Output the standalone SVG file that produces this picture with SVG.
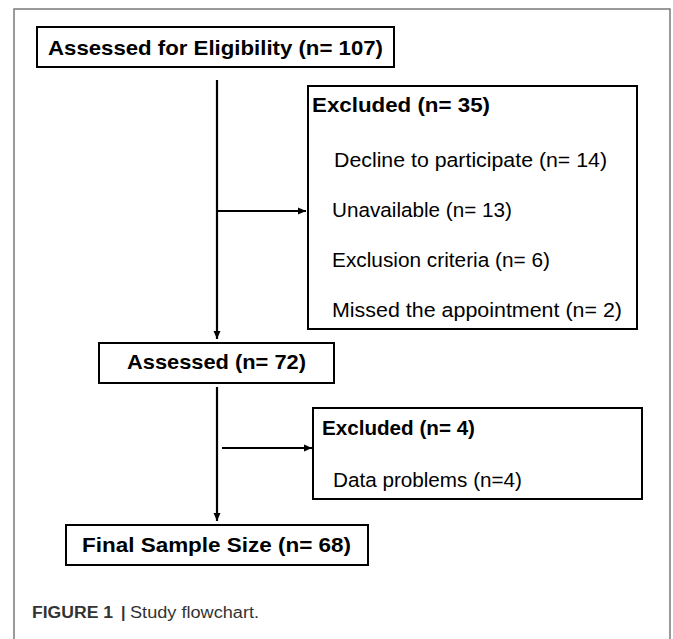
<svg xmlns="http://www.w3.org/2000/svg" width="673" height="639" viewBox="0 0 673 639">
  <style>
    .box { fill: #ffffff; stroke: #000000; stroke-width: 2; }
    .frame { fill: none; stroke: #7a7a7a; stroke-width: 1.5; }
    .title { font-family: "Liberation Sans", Arial, sans-serif; font-weight: bold; font-size: 21px; fill: #000; }
    .item { font-family: "Liberation Sans", Arial, sans-serif; font-size: 20.5px; fill: #000; }
    .cap { font-family: "Liberation Sans", Arial, sans-serif; font-size: 16px; fill: #333; }
    .conn { stroke: #000; stroke-width: 2.2; fill: none; }
  </style>
  <defs>
    <marker id="arrow" markerUnits="userSpaceOnUse" markerWidth="10" markerHeight="10" refX="9" refY="5" orient="auto">
      <path d="M1,1.5 L9,5 L1,8.5 Z" fill="#000"/>
    </marker>
  </defs>
  <rect width="673" height="639" fill="#ffffff"/>
  <path class="frame" d="M14,639 L14,9 L670,9 L670,639"/>

  <g id="connectors">
    <line class="conn" x1="217" y1="80" x2="217" y2="339" marker-end="url(#arrow)"/>
    <line class="conn" x1="217" y1="211" x2="306" y2="211" marker-end="url(#arrow)"/>
    <line class="conn" x1="217" y1="387" x2="217" y2="521" marker-end="url(#arrow)"/>
    <line class="conn" x1="222" y1="448" x2="312" y2="448" marker-end="url(#arrow)"/>
  </g>

  <g id="node-eligibility">
    <rect class="box" x="37" y="27" width="357" height="40"/>
    <text class="title" x="48" y="54.5" textLength="335" lengthAdjust="spacingAndGlyphs">Assessed for Eligibility (n= 107)</text>
  </g>

  <g id="node-excluded35">
    <rect class="box" x="308" y="86" width="329" height="243"/>
    <text class="title" x="312" y="112" textLength="178" lengthAdjust="spacingAndGlyphs">Excluded (n= 35)</text>
    <text class="item" x="334" y="167" textLength="273" lengthAdjust="spacingAndGlyphs">Decline to participate (n= 14)</text>
    <text class="item" x="332" y="217" textLength="180" lengthAdjust="spacingAndGlyphs">Unavailable (n= 13)</text>
    <text class="item" x="332" y="267" textLength="218" lengthAdjust="spacingAndGlyphs">Exclusion criteria (n= 6)</text>
    <text class="item" x="332" y="317" textLength="290" lengthAdjust="spacingAndGlyphs">Missed the appointment (n= 2)</text>
  </g>

  <g id="node-assessed">
    <rect class="box" x="99" y="343" width="235" height="40"/>
    <text class="title" x="127" y="369" textLength="179" lengthAdjust="spacingAndGlyphs">Assessed (n= 72)</text>
  </g>

  <g id="node-excluded4">
    <rect class="box" x="313" y="408" width="329" height="91"/>
    <text class="title" x="322" y="435" textLength="153" lengthAdjust="spacingAndGlyphs">Excluded (n= 4)</text>
    <text class="item" x="333" y="487" textLength="189" lengthAdjust="spacingAndGlyphs">Data problems (n=4)</text>
  </g>

  <g id="node-final">
    <rect class="box" x="66" y="525" width="302" height="40"/>
    <text class="title" x="82" y="552" textLength="269" lengthAdjust="spacingAndGlyphs">Final Sample Size (n= 68)</text>
  </g>

  <g id="caption">
    <text class="cap" x="32" y="618"><tspan font-weight="bold" textLength="81" lengthAdjust="spacingAndGlyphs">FIGURE 1</tspan><tspan x="121" font-weight="bold">|</tspan><tspan x="130" textLength="129" lengthAdjust="spacingAndGlyphs">Study flowchart.</tspan></text>
  </g>
</svg>
